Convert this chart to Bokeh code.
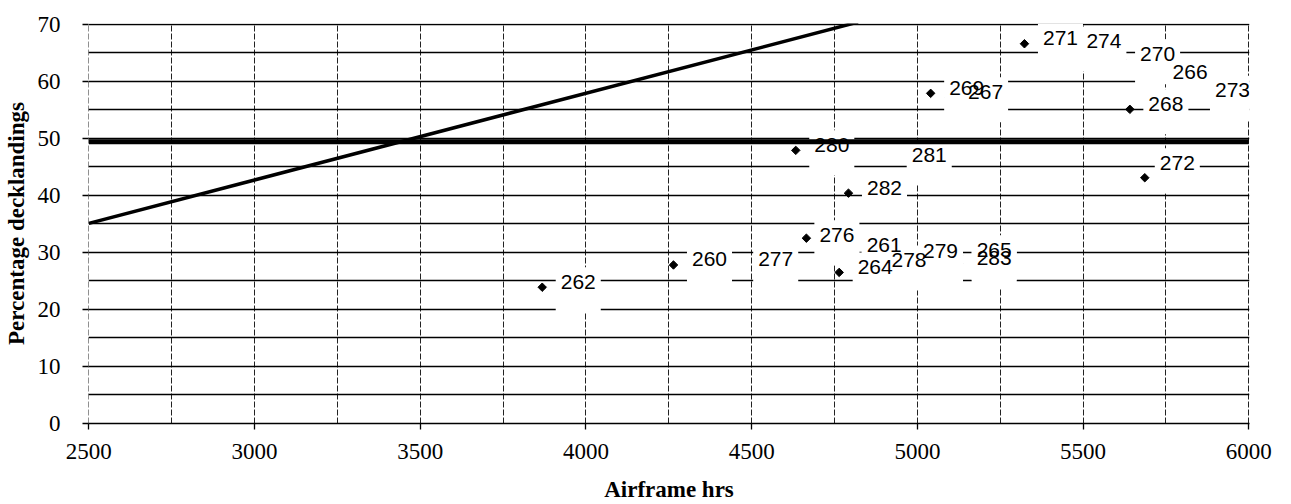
from bokeh.plotting import figure
from bokeh.models import ColumnDataSource, SingleIntervalTicker, Range1d
from bokeh.core.properties import value
from bokeh.embed import file_html
from bokeh.resources import INLINE

# ---------------- data ----------------
aircraft = ["262", "260", "277", "276", "261", "264", "278", "279", "265", "283",
            "282", "281", "280", "272", "268", "273", "266", "270", "274", "271",
            "269", "267"]
airframe_hrs = [3868, 4264, 4411, 4665, 4791, 4764, 4866, 4961, 5123, 5123,
                4792, 4752, 4633, 5686, 5641, 5842, 5714, 5616, 5454, 5323,
                5040, 5097]
pct_decklandings = [23.9, 27.8, 27.3, 32.5, 30.4, 26.5, 27.7, 29.2, 29.5, 28.1,
                    40.4, 46.2, 47.9, 43.1, 55.1, 57.5, 60.7, 63.9, 66.1, 66.6,
                    57.9, 57.2]

trend_x = [2500, 4821]
trend_y = [35.1, 70.4]
limit_x = [2500, 6000]
limit_y = [49.4, 49.4]

# ---------------- styling ----------------
BASE_DX, BASE_DY = 18.5, -5.5
BOX_DX, BOX_DY = -5, 8     # label boxes reach further below the text than above
NUDGE = {"277": (17.5, -3.5), "272": (-3.5, -9.5), "276": (-5.5, 2), "281": (58, 0)}
dx = [BASE_DX + NUDGE.get(a, (0, 0))[0] for a in aircraft]
dy = [BASE_DY + NUDGE.get(a, (0, 0))[1] for a in aircraft]
dx_box = [d + BOX_DX for d in dx]
dy_box = [d + BOX_DY for d in dy]

src = ColumnDataSource(dict(x=airframe_hrs, y=pct_decklandings, t=aircraft,
                            dx=dx, dy=dy, dxb=dx_box, dyb=dy_box))

p = figure(frame_width=1161, frame_height=400, output_backend="svg", toolbar_location=None,
           title=None, x_range=Range1d(2499, 6002), y_range=Range1d(0, 70.15),
           min_border_left=86, min_border_right=26, min_border_top=23, min_border_bottom=79)
p.outline_line_color = None
p.background_fill_color = "white"

SERIF = "Liberation Serif"

# grids
p.ygrid.ticker = SingleIntervalTicker(interval=5)
p.ygrid.grid_line_color = "black"
p.ygrid.grid_line_width = 1.3
p.xgrid.ticker = SingleIntervalTicker(interval=250)
p.xgrid.grid_line_color = "#222222"
p.xgrid.grid_line_width = 1
p.xgrid.grid_line_dash = "6 2"

# axes
p.xaxis.ticker = SingleIntervalTicker(interval=500, num_minor_ticks=0)
p.yaxis.ticker = SingleIntervalTicker(interval=10, num_minor_ticks=0)
for ax in (p.xaxis[0], p.yaxis[0]):
    ax.major_tick_out = 6
    ax.major_tick_in = 0
    ax.minor_tick_out = 0
    ax.minor_tick_in = 0
    ax.major_tick_line_color = "black"
    ax.major_tick_line_width = 1.3
    ax.major_label_text_font = SERIF
    ax.major_label_text_font_size = "23px"
    ax.major_label_text_color = "black"
    ax.axis_label_text_font = SERIF
    ax.axis_label_text_font_size = "23px"
    ax.axis_label_text_font_style = "bold"
    ax.axis_label_text_color = "black"
p.xaxis.axis_line_color = "black"
p.xaxis.axis_line_width = 1.3
p.yaxis.axis_line_color = None
p.xaxis.major_label_standoff = 14
p.yaxis.major_label_standoff = 22
p.xaxis.axis_label = "Airframe hrs"
p.yaxis.axis_label = "Percentage decklandings"
p.xaxis.axis_label_standoff = 15
p.yaxis.axis_label_standoff = 6

# points
p.scatter("x", "y", source=src, marker="square", angle=0.785398, size=6,
          fill_color="black", line_color="black")

# white label boxes (under all label texts)
p.text("x", "y", text="t", source=src, x_offset="dxb", y_offset="dyb",
       text_font=value("Liberation Sans"), text_font_size="21px",
       text_baseline="middle", text_align="left", text_alpha=0,
       background_fill_color="white",
       padding=(5, 5, 15, 16))

# reference lines
p.line(limit_x, limit_y, line_color="black", line_width=5)
p.line(trend_x, trend_y, line_color="black", line_width=3.5)

# label texts
p.text("x", "y", text="t", source=src, x_offset="dx", y_offset="dy",
       text_font=value("Liberation Sans"), text_font_size="21px",
       text_baseline="middle", text_align="left", text_color="black")

open("out.html", "w").write(file_html(p, INLINE))
